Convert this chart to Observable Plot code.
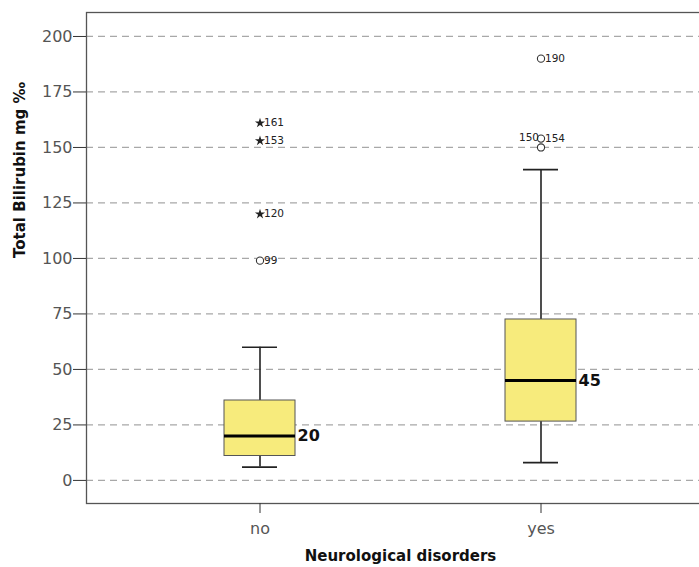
<!DOCTYPE html>
<html>
<head>
<meta charset="utf-8">
<script src="https://cdn.jsdelivr.net/npm/d3@7"></script>
<script src="https://cdn.jsdelivr.net/npm/@observablehq/plot@0.6"></script>
<style>
  html, body { margin: 0; padding: 0; background: #fff; }
  #chart svg { overflow: hidden; }
</style>
</head>
<body>
<div id="chart"></div>
<script>
// Box-plot summary
const groups   = ["no", "yes"];
const whiskLo  = [6, 8];
const q1       = [11, 26.5];
const medians  = [20, 45];
const q3       = [36, 72.5];
const whiskHi  = [60, 140];

// Outliers: group, value, case label, marker kind
const outGroup = ["no", "no", "no", "no", "yes", "yes", "yes"];
const outValue = [99, 120, 153, 161, 150, 154, 190];
const outLabel = ["99", "120", "153", "161", "150", "154", "190"];
const outKind  = ["circle", "star", "star", "star", "circle", "circle", "circle"];
const leftLabelled = ["150"];

const yTicks = [0, 25, 50, 75, 100, 125, 150, 175, 200];
const yLabel = "Total Bilirubin mg ‰";
const xLabel = "Neurological disorders";

const boxes = groups.map((g, i) => ({g, lo: whiskLo[i], q1: q1[i], med: medians[i], q3: q3[i], hi: whiskHi[i]}));
const outliers = outValue.map((v, i) => ({g: outGroup[i], v, label: outLabel[i], kind: outKind[i]}));
const outRight = outliers.filter(d => !leftLabelled.includes(d.label));
const outLeft = outliers.filter(d => leftLabelled.includes(d.label));

const font = "'DejaVu Sans', sans-serif";

const chart = Plot.plot({
  width: 699,
  height: 567,
  marginLeft: 86,
  marginRight: -15,
  marginTop: 12,
  marginBottom: 64,
  style: {fontFamily: font, background: "#fff", overflow: "hidden"},
  x: {type: "band", domain: groups, paddingInner: 0.748, paddingOuter: 0.4876, label: null},
  y: {domain: [-10.4, 210.8], label: null},
  marks: [
    Plot.gridY(yTicks, {stroke: "#a8a8a8", strokeOpacity: 1, strokeWidth: 1.3, strokeDasharray: "7,5"}),
    Plot.frame({stroke: "#555", strokeWidth: 1.3}),
    Plot.axisY(yTicks, {tickSize: 13, tickPadding: 1, stroke: "#333", fill: "#555", fontSize: 16, label: null}),
    Plot.axisX({tickSize: 10, tickPadding: 9, stroke: "#333", fill: "#555", fontSize: 16, label: null}),
    // whiskers
    Plot.ruleX(boxes, {x: "g", y1: "q3", y2: "hi", stroke: "#222", strokeWidth: 1.6}),
    Plot.ruleX(boxes, {x: "g", y1: "lo", y2: "q1", stroke: "#222", strokeWidth: 1.6}),
    Plot.tickY(boxes, {x: "g", y: "hi", stroke: "#222", strokeWidth: 1.6, insetLeft: 18, insetRight: 18}),
    Plot.tickY(boxes, {x: "g", y: "lo", stroke: "#222", strokeWidth: 1.6, insetLeft: 18, insetRight: 18}),
    // boxes
    Plot.barY(boxes, {x: "g", y1: "q1", y2: "q3", fill: "#f7eb7c", stroke: "#555", strokeWidth: 1}),
    Plot.tickY(boxes, {x: "g", y: "med", stroke: "#000", strokeWidth: 3}),
    Plot.text(boxes, {x: "g", y: "med", text: d => String(d.med), dx: 37.5, textAnchor: "start", fontSize: 16, fontWeight: "bold", fill: "#111"}),
    // outliers
    Plot.dot(outliers.filter(d => d.kind === "circle"), {x: "g", y: "v", r: 3.6, stroke: "#333", fill: "#fff", strokeWidth: 1.1}),
    Plot.dot(outliers.filter(d => d.kind === "star"), {x: "g", y: "v", symbol: "star", r: 3.2, fill: "#222", stroke: "none"}),
    Plot.text(outRight, {x: "g", y: "v", text: "label", dx: 4, textAnchor: "start", fontSize: 10.5, fill: "#222"}),
    Plot.text(outLeft, {x: "g", y: "v", text: "label", dx: -2, dy: -10, textAnchor: "end", fontSize: 10.5, fill: "#222"}),
    // axis titles
    Plot.text([yLabel], {frameAnchor: "left", text: d => d, rotate: -90, dx: -66, fontSize: 15, fontWeight: "bold", fill: "#111"}),
    Plot.text([xLabel], {frameAnchor: "bottom", text: d => d, dy: 57, fontSize: 15, fontWeight: "bold", fill: "#111"})
  ]
});
document.getElementById("chart").appendChild(chart);
</script>
</body>
</html>
